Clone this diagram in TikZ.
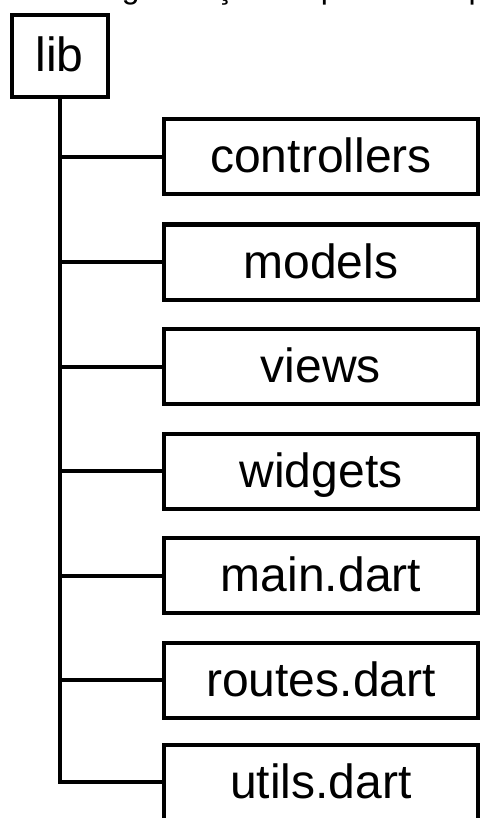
\documentclass[tikz,border=0pt]{standalone}
\usepackage{fontspec}
\setmainfont{Liberation Sans}
\begin{document}
\begin{tikzpicture}[x=1pt,y=-1pt,
  box/.style={draw=black,line width=4pt,fill=white,inner sep=0pt,
    minimum width=96pt,minimum height=82pt,
    text height=32pt,text depth=0pt,
    font=\fontsize{48}{58}\selectfont},
  item/.style={box,minimum width=314pt,minimum height=75pt},
  wire/.style={draw=black,line width=4pt,line join=miter}]
\useasboundingbox (0,0) rectangle (480,818);
\node[anchor=base west,inner sep=0pt,font=\fontsize{32}{38}\selectfont] (cap) at (86,-1) {Organização de pastas do projeto};
\node[box] (lib) at (59.5,56) {lib};
\node[item] (c1) at (321,157) {controllers};
\node[item] (c2) at (321,262) {models};
\node[item] (c3) at (321,366.5) {views};
\node[item] (c4) at (321,471) {widgets};
\node[item] (c5) at (321,575.5) {main.dart};
\node[item] (c6) at (321,680) {routes.dart};
\node[item] (c7) at (321,782) {utils.dart};
\path[wire] (lib.south) |- (c7.west);
\foreach \n in {c1,c2,c3,c4,c5,c6}
  \path[wire] (lib.south |- \n.west) -- (\n.west);
\end{tikzpicture}
\end{document}
